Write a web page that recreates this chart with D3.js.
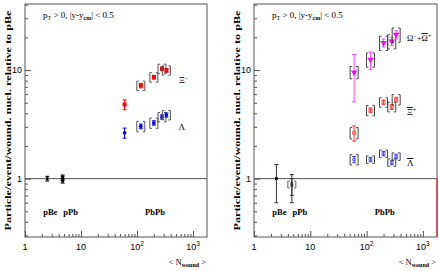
<!DOCTYPE html>
<html><head><meta charset="utf-8">
<script src="https://cdn.jsdelivr.net/npm/d3@7"></script>
<style>
body{margin:0;background:#fff;}
svg{display:block;}
text{font-family:"Liberation Serif","Times New Roman",serif;}
.tick-lab{font-family:"Liberation Sans",Arial,sans-serif;font-size:9px;fill:#000;}
</style></head>
<body><svg id="c" width="439" height="271"></svg>
<script>
// ---------- data ----------
const nwoundPbPb = [60, 117, 200, 280, 335];
const nwoundPBe = 2.5, nwoundPPb = 4.7;
// left panel
const xiMinus      = [4.81, 7.2, 8.6, 10.3, 9.95];
const xiMinusStat  = [0.5, 0.35, 0.35, 0.4, 0.4];
const xiMinusSyst  = [0, 0.1, 0.1, 0.1, 0.1];
const lambda       = [2.64, 3.03, 3.26, 3.7, 3.86];
const lambdaStat   = [0.28, 0.15, 0.15, 0.17, 0.17];
const lambdaSyst   = [0, 0.11, 0.11, 0.1, 0.1];
const leftPBe = [1.0], leftPBeErr = [0.05];
const leftPPb = [0.95, 1.0, 1.04], leftPPbErr = [0.04, 0.04, 0.04];
// right panel
const omega        = [9.55, 12.5, 17.8, 18.4, 21.2];
const omegaLo      = [5.1, 10.1, 16.3, 16.8, 19.4];
const omegaHi      = [13.9, 14.7, 19.3, 20.0, 23.0];
const omegaSyst    = [0.13, 0.15, 0.15, 0.15, 0.15];
const xiPlus       = [2.64, 4.26, 5.05, 4.58, 5.35];
const xiPlusStat   = [0.42, 0.22, 0.25, 0.25, 0.27];
const xiPlusSyst   = [0.12, 0.11, 0.1, 0.1, 0.11];
const antiLambda   = [1.5, 1.5, 1.7, 1.41, 1.6];
const antiLambdaStat = [0.1, 0.07, 0.08, 0.07, 0.08];
const antiLambdaSyst = [0.11, 0.08, 0.08, 0.08, 0.08];
const rightPBe = [1.0], rightPBeLo = [0.6], rightPBeHi = [1.35];
const rightPPb = [0.9, 0.86], rightPPbLo = [0.6, 0.7], rightPPbHi = [1.09, 1.0];
const xTickVals = [1, 10, 100, 1000];
const xTickLabels = [["1",""], ["10",""], ["10","2"], ["10","3"]];
const yTickVals = [1, 10];
const yTickLabels = ["1", "10"];
const yLabel = "Particle/event/wound. nucl. relative to pBe";
const sysLabels = ["pBe", "pPb", "PbPb"];
const sysLabelN = [2.5, 4.7, 210];

// ---------- layout ----------
const svg = d3.select("#c");
const axisCol = "#555";
const panels = [
  {x0: 25, x1: 207},
  {x0: 254, x1: 437}
];
const yTop = 4, yBot = 237;

function makePanel(p) {
  const g = svg.append("g");
  const x = d3.scaleLog().domain([1, 1780]).range([p.x0, p.x1]);
  const y = d3.scaleLog().domain([0.29, 40.6]).range([yBot, yTop]);
  g.append("rect").attr("x", p.x0).attr("y", yTop).attr("width", p.x1 - p.x0).attr("height", yBot - yTop)
    .attr("fill", "none").attr("stroke", axisCol).attr("stroke-width", 1);
  const xMinor = [];
  for (let d = 1; d < 2000; d *= 10) for (let k = 2; k <= 9; k++) if (d * k < 1780) xMinor.push(d * k);
  g.append("g").attr("transform", `translate(0,${yBot})`)
    .call(d3.axisBottom(x).tickValues(xMinor).tickSize(-3).tickFormat(""))
    .call(a => { a.select(".domain").remove(); a.selectAll("line").attr("stroke", axisCol); });
  g.append("g").attr("transform", `translate(0,${yBot})`)
    .call(d3.axisBottom(x).tickValues(xTickVals).tickSize(-6).tickFormat(""))
    .call(a => { a.select(".domain").remove(); a.selectAll("line").attr("stroke", axisCol); });
  xTickVals.forEach((v, i) => {
    const t = g.append("text").attr("class", "tick-lab").attr("x", x(v)).attr("y", 250).attr("text-anchor", "middle");
    t.append("tspan").text(xTickLabels[i][0]);
    if (xTickLabels[i][1]) t.append("tspan").attr("dy", -4).attr("font-size", "6.5px").text(xTickLabels[i][1]);
  });
  const yMinor = [0.3,0.4,0.5,0.6,0.7,0.8,0.9,2,3,4,5,6,7,8,9,20,30,40];
  g.append("g").attr("transform", `translate(${p.x0},0)`)
    .call(d3.axisLeft(y).tickValues(yMinor).tickSize(-3).tickFormat(""))
    .call(a => { a.select(".domain").remove(); a.selectAll("line").attr("stroke", axisCol); });
  g.append("g").attr("transform", `translate(${p.x0},0)`)
    .call(d3.axisLeft(y).tickValues(yTickVals).tickSize(-6).tickFormat(""))
    .call(a => { a.select(".domain").remove(); a.selectAll("line").attr("stroke", axisCol); });
  yTickVals.forEach((v, i) => {
    g.append("text").attr("class", "tick-lab").attr("x", p.x0 - 3).attr("y", y(v) + 3)
      .attr("text-anchor", "end").text(yTickLabels[i]);
  });
  g.append("line").attr("x1", p.x0).attr("x2", p.x1).attr("y1", y(1)).attr("y2", y(1))
    .attr("stroke", axisCol).attr("stroke-width", 1);
  g.append("text").attr("transform", `translate(${p.x0 - 14},${(yTop + yBot) / 2}) rotate(-90)`)
    .attr("text-anchor", "middle").attr("font-size", "9px").attr("font-weight", "bold")
    .attr("textLength", 220).attr("lengthAdjust", "spacingAndGlyphs").text(yLabel);
  const xl = g.append("text").attr("x", p.x1 - 1).attr("y", 265).attr("text-anchor", "end").attr("font-size", "8.5px");
  xl.append("tspan").text("< N");
  xl.append("tspan").attr("dy", 2).attr("font-size", "6px").attr("font-weight", "bold").text("wound");
  xl.append("tspan").attr("dy", -2).text(" >");
  const kt = g.append("text").attr("x", p.x0 + 18).attr("y", 18).attr("font-size", "9px");
  kt.append("tspan").text("p");
  kt.append("tspan").attr("dy", 2).attr("font-size", "6px").text("T");
  kt.append("tspan").attr("dy", -2).text(" > 0,  |y-y");
  kt.append("tspan").attr("dy", 2).attr("font-size", "6px").attr("font-weight", "bold").text("cm");
  kt.append("tspan").attr("dy", -2).text("| < 0.5");
  const sysOff = [3, 8, 0];
  sysLabels.forEach((s, i) => {
    g.append("text").attr("x", x(sysLabelN[i]) + sysOff[i]).attr("y", 215).attr("font-size", "8.5px")
      .attr("font-weight", "bold").attr("text-anchor", "middle").text(s);
  });
  return {g, x, y};
}

function errBar(g, x, y, xv, lo, hi, col) {
  g.append("line").attr("x1", x(xv)).attr("x2", x(xv)).attr("y1", y(lo)).attr("y2", y(hi))
    .attr("stroke", col).attr("stroke-width", 1);
  [lo, hi].forEach(v => g.append("line").attr("x1", x(xv) - 2).attr("x2", x(xv) + 2)
    .attr("y1", y(v)).attr("y2", y(v)).attr("stroke", col).attr("stroke-width", 1));
}
function bracket(g, x, y, xv, lo, hi, col) {
  const cx = x(xv), a = y(hi), b = y(lo);
  g.append("path").attr("d", `M${cx - 2},${a}H${cx - 4}V${b}H${cx - 2}M${cx + 2},${a}H${cx + 4}V${b}H${cx + 2}`)
    .attr("fill", "none").attr("stroke", col).attr("stroke-width", 1);
}
function marker(g, x, y, xv, v, type, col, sz) {
  const symMap = {sq: d3.symbolSquare, circ: d3.symbolCircle, tri: d3.symbolTriangle};
  const filled = !type.startsWith("o");
  const base = type.replace(/^o/, "");
  const size = sz || (base === "sq" ? 14 : base === "tri" ? 18 : 11);
  g.append("path").attr("d", d3.symbol(symMap[base], size)())
    .attr("transform", `translate(${x(xv)},${y(v)})${base === "tri" ? " rotate(180)" : ""}`)
    .attr("fill", filled ? col : "none").attr("stroke", col).attr("stroke-width", filled ? 0 : 0.9);
}

// ---------- left panel ----------
{
  const {g, x, y} = makePanel(panels[0]);
  const sysCol = "#555";
  nwoundPbPb.forEach((n, i) => {
    if (xiMinusSyst[i] > 0) bracket(g, x, y, n, xiMinus[i] * (1 - xiMinusSyst[i]), xiMinus[i] * (1 + xiMinusSyst[i]), sysCol);
    errBar(g, x, y, n, xiMinus[i] - xiMinusStat[i], xiMinus[i] + xiMinusStat[i], "#ff0000");
    marker(g, x, y, n, xiMinus[i], "sq", "#ff0000", 16);
    if (lambdaSyst[i] > 0) bracket(g, x, y, n, lambda[i] * (1 - lambdaSyst[i]), lambda[i] * (1 + lambdaSyst[i]), sysCol);
    errBar(g, x, y, n, lambda[i] - lambdaStat[i], lambda[i] + lambdaStat[i], "#0000ff");
    marker(g, x, y, n, lambda[i], "circ", "#0000ff", 11);
  });
  leftPBe.forEach((v, i) => { errBar(g, x, y, nwoundPBe, v - leftPBeErr[i], v + leftPBeErr[i], "#000"); marker(g, x, y, nwoundPBe, v, "sq", "#000", 7); });
  leftPPb.forEach((v, i) => { errBar(g, x, y, nwoundPPb, v - leftPPbErr[i], v + leftPPbErr[i], "#000"); marker(g, x, y, nwoundPPb, v, "sq", "#000", 7); });
  const t1 = g.append("text").attr("x", 179).attr("y", 83).attr("font-size", "9px");
  t1.append("tspan").text("Ξ"); t1.append("tspan").attr("dy", -3).attr("font-size", "6px").text("−");
  g.append("text").attr("x", 178.5).attr("y", 129.5).attr("font-size", "9px").text("Λ");
}

// ---------- right panel ----------
{
  const {g, x, y} = makePanel(panels[1]);
  const sysCol = "#444";
  nwoundPbPb.forEach((n, i) => {
    bracket(g, x, y, n, omega[i] * (1 - omegaSyst[i]), omega[i] * (1 + omegaSyst[i]), sysCol);
    errBar(g, x, y, n, omegaLo[i], omegaHi[i], "#ff44ff");
    marker(g, x, y, n, omega[i], "tri", "#ff00ff", 18);
    bracket(g, x, y, n, xiPlus[i] * (1 - xiPlusSyst[i]), xiPlus[i] * (1 + xiPlusSyst[i]), sysCol);
    errBar(g, x, y, n, xiPlus[i] - xiPlusStat[i], xiPlus[i] + xiPlusStat[i], "#ff3030");
    marker(g, x, y, n, xiPlus[i], "osq", "#ff4040", 9);
    bracket(g, x, y, n, antiLambda[i] * (1 - antiLambdaSyst[i]), antiLambda[i] * (1 + antiLambdaSyst[i]), sysCol);
    errBar(g, x, y, n, antiLambda[i] - antiLambdaStat[i], antiLambda[i] + antiLambdaStat[i], "#4040ff");
    marker(g, x, y, n, antiLambda[i], "ocirc", "#4040ff", 8);
  });
  rightPBe.forEach((v, i) => { errBar(g, x, y, nwoundPBe, rightPBeLo[i], rightPBeHi[i], "#333"); marker(g, x, y, nwoundPBe, v, "sq", "#000", 8); });
  rightPPb.forEach((v, i) => { errBar(g, x, y, nwoundPPb, rightPPbLo[i], rightPPbHi[i], "#333"); marker(g, x, y, nwoundPPb, v, "sq", "#333", 7); });
  bracket(g, x, y, nwoundPPb, 0.82, 0.95, "#666");
  g.append("line").attr("x1", panels[1].x1).attr("x2", panels[1].x1).attr("y1", y(1)).attr("y2", yBot)
    .attr("stroke", "#ff0000").attr("stroke-width", 1);
  const t1 = g.append("text").attr("x", 407).attr("y", 41).attr("font-size", "8.5px");
  t1.append("tspan").text("Ω"); t1.append("tspan").attr("dy", -3).attr("font-size", "6px").text("−");
  t1.append("tspan").attr("dy", 3).text("+");
  t1.append("tspan").attr("style", "text-decoration:overline").text("Ω");
  t1.append("tspan").attr("dy", -3).attr("font-size", "6px").text("+");
  const t2 = g.append("text").attr("x", 407).attr("y", 115).attr("font-size", "9px");
  t2.append("tspan").attr("style", "text-decoration:overline").text("Ξ");
  t2.append("tspan").attr("dy", -3).attr("font-size", "6px").text("+");
  g.append("text").attr("x", 407).attr("y", 166).attr("font-size", "9px")
    .attr("style", "text-decoration:overline").text("Λ");
}
</script></body></html>
